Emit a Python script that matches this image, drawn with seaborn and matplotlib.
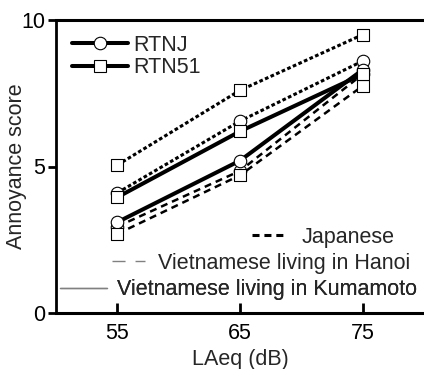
import matplotlib
matplotlib.use("Agg")
import matplotlib.pyplot as plt
from matplotlib.lines import Line2D
import pandas as pd
import seaborn as sns

# Noise level (dB) and mean annoyance scores per group and annoyance-scale source
levels = [55, 65, 75]
japanese_rtnj = [4.1, 6.55, 8.6]
japanese_rtn51 = [5.05, 7.6, 9.5]
hanoi_rtnj = [2.95, 4.85, 8.15]
hanoi_rtn51 = [2.7, 4.7, 7.75]
kumamoto_rtnj = [3.1, 5.2, 8.3]
kumamoto_rtn51 = [3.95, 6.2, 8.15]

groups = ["Japanese", "Vietnamese living in Hanoi", "Vietnamese living in Kumamoto"]
sources = ["RTNJ", "RTN51"]
x_ticks = [55, 65, 75]
y_ticks = [0, 5, 10]

FS = 15.5

sns.set_style("ticks")
plt.rcParams["font.family"] = ["Liberation Sans", "DejaVu Sans"]
plt.rcParams["font.size"] = FS

series = [
    (groups[0], sources[0], japanese_rtnj),
    (groups[0], sources[1], japanese_rtn51),
    (groups[1], sources[0], hanoi_rtnj),
    (groups[1], sources[1], hanoi_rtn51),
    (groups[2], sources[0], kumamoto_rtnj),
    (groups[2], sources[1], kumamoto_rtn51),
]
rows = []
for group, source, values in series:
    for lv, v in zip(levels, values):
        rows.append({"LAeq": lv, "score": v, "group": group, "source": source})
df = pd.DataFrame(rows)

line_style = {
    groups[0]: dict(linewidth=2.2, linestyle=(0, (1.2, 0.8))),
    groups[1]: dict(linewidth=1.8, linestyle=(0, (2.8, 2.0))),
    groups[2]: dict(linewidth=2.9, linestyle="-"),
}
marker_of = {"RTNJ": "o", "RTN51": "s"}

fig = plt.figure(figsize=(4.24, 3.69), dpi=100)
ax = fig.add_axes([56 / 424, 56 / 369, 368 / 424, 293 / 369])

# Lines first, markers on top
for (group, source), sub in df.groupby(["group", "source"], sort=False):
    sns.lineplot(data=sub, x="LAeq", y="score", ax=ax, color="black",
                 zorder=2, legend=False, **line_style[group])

for z, source in enumerate(sources):
    sub = df[df["source"] == source]
    sns.scatterplot(data=sub, x="LAeq", y="score", ax=ax, marker=marker_of[source],
                    s=81, color="white", edgecolor="black", linewidth=0.8,
                    zorder=3 + z, legend=False)

ax.set_xlim(50, 80)
ax.set_ylim(0, 10)
ax.set_xticks(x_ticks)
ax.set_yticks(y_ticks)
ax.set_xlabel("LAeq (dB)", fontsize=FS, labelpad=4)
ax.set_ylabel("Annoyance score", fontsize=FS)
ax.yaxis.set_label_coords(-0.078, 0.5)

ax.spines["right"].set_visible(False)
for side, lw in [("top", 2.2), ("left", 2.0), ("bottom", 2.2)]:
    ax.spines[side].set_linewidth(lw)
    ax.spines[side].set_color("black")
ax.tick_params(axis="y", direction="out", length=6, width=2, pad=2, labelsize=FS, colors="black")
ax.tick_params(axis="x", direction="in", length=7, width=2, pad=7, labelsize=FS, colors="black")

# Legend for the annoyance-scale sources
src_handles = [
    Line2D([], [], color="black", lw=2.9, marker=marker_of[s], ms=9,
           mfc="white", mec="black", mew=0.8)
    for s in sources
]
leg_src = ax.legend(src_handles, sources, loc="center left",
                    bbox_to_anchor=(72 / 424, 1 - 56.5 / 369),
                    bbox_transform=fig.transFigure, frameon=False,
                    handlelength=2.6, handletextpad=0.23, labelspacing=0.05,
                    borderpad=0, borderaxespad=0, fontsize=FS)
ax.add_artist(leg_src)

# Legends for the respondent groups
group_legend = [
    (groups[0], Line2D([], [], color="black", lw=2.2, linestyle=(0, (2.3, 1.6))),
     252, 237, 1.53, 0.79),
    (groups[1], Line2D([], [], color="#808080", lw=1.0, linestyle=(0, (9.4, 7.2))),
     112, 263, 1.53, 0.6),
    (groups[2], Line2D([], [], color="#808080", lw=1.0, linestyle="-"),
     60, 290, 2.18, 0.46),
]
for label, handle, px, py, hl, tp in group_legend:
    leg = ax.legend([handle], [label], loc="center left",
                    bbox_to_anchor=(px / 424, 1 - py / 369),
                    bbox_transform=fig.transFigure, frameon=False,
                    handlelength=hl, handletextpad=tp,
                    borderpad=0, borderaxespad=0, fontsize=FS)
    ax.add_artist(leg)

fig.savefig("out.png", dpi=100)
